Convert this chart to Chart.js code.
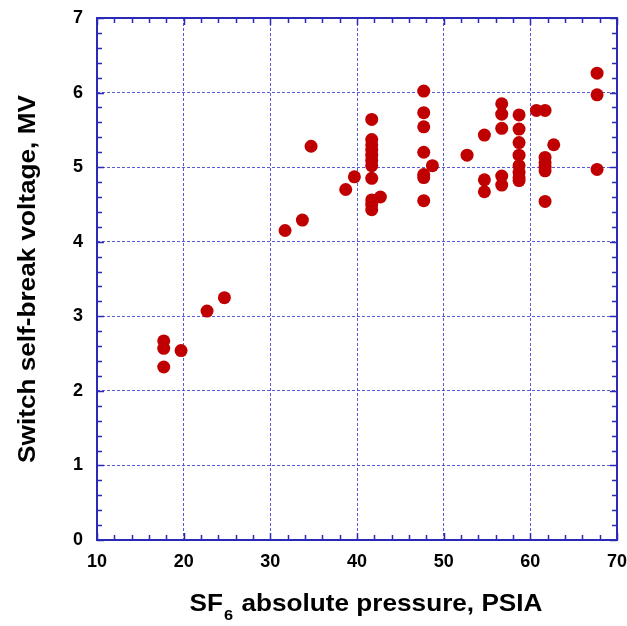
<!DOCTYPE html>
<html>
<head>
<meta charset="utf-8">
<script src="https://cdn.jsdelivr.net/npm/chart.js@4"></script>
<style>
  html, body { margin: 0; padding: 0; background: #fff; }
  #wrap { width: 627px; height: 626px; }
</style>
</head>
<body>
<div id="wrap"><canvas id="chart-sf6"></canvas></div>
<script>
// данные
const pressure = [
  17.7, 17.7, 17.7, 19.7, 22.7, 24.7, 31.7, 33.7, 34.7, 38.7, 39.7,
  41.7, 41.7, 41.7, 41.7, 41.7, 41.7, 41.7, 41.7, 41.7, 41.7, 41.7, 42.7,
  47.7, 47.7, 47.7, 47.7, 47.7, 47.7, 47.7, 48.7, 52.7,
  54.7, 54.7, 54.7, 56.7, 56.7, 56.7, 56.7, 56.7,
  58.7, 58.7, 58.7, 58.7, 58.7, 58.7, 58.7, 58.7, 60.7,
  61.7, 61.7, 61.7, 61.7, 61.7, 61.7, 62.7, 67.7, 67.7, 67.7,
];
const voltage = [
  2.67, 2.57, 2.32, 2.54, 3.07, 3.25, 4.15, 4.29, 5.28, 4.70, 4.87,
  5.64, 5.37, 5.30, 5.23, 5.16, 5.09, 5.02, 4.85, 4.56, 4.50, 4.43, 4.60,
  6.02, 5.73, 5.54, 5.20, 4.90, 4.86, 4.55, 5.02, 5.16,
  5.43, 4.83, 4.67, 5.85, 5.71, 5.52, 4.88, 4.76,
  5.70, 5.51, 5.33, 5.16, 5.02, 4.93, 4.86, 4.82, 5.76,
  5.76, 5.13, 5.06, 5.00, 4.95, 4.54, 5.30, 6.26, 5.97, 4.97,
];
const xTicks = [10, 20, 30, 40, 50, 60, 70];
const yTicks = [0, 1, 2, 3, 4, 5, 6, 7];
const xLabel = ["SF", "6", " absolute pressure, PSIA"];
const yLabel = "Switch self-break voltage, MV";

const FONT = '"Liberation Sans", Arial, Helvetica, sans-serif';
const BLUE = "#2a2ab8";
const GRID = "rgba(60, 60, 210, 0.85)";
const STRETCH = 1.09; // текст в оригинале немного растянут

const points = pressure.map((x, i) => ({ x: x, y: voltage[i] }));

// рамка, мелкие засечки и подписи осей
const framePlugin = {
  id: "frame",
  afterDraw(chart) {
    const { ctx, chartArea: a, scales } = chart;
    const sx = scales.x, sy = scales.y;
    ctx.save();
    ctx.strokeStyle = BLUE;
    ctx.lineWidth = 1.5;
    ctx.beginPath();
    // засечки по X (через 2)
    for (let v = 10; v <= 70; v += 2) {
      const px = Math.round(sx.getPixelForValue(v)) + 0.5;
      const len = v % 10 === 0 ? 7 : 5;
      ctx.moveTo(px, a.bottom); ctx.lineTo(px, a.bottom - len);
      ctx.moveTo(px, a.top); ctx.lineTo(px, a.top + len);
    }
    // засечки по Y (через 0.2)
    for (let k = 0; k <= 35; k++) {
      const v = k * 0.2;
      const py = Math.round(sy.getPixelForValue(v)) + 0.5;
      const len = k % 5 === 0 ? 7 : 5;
      ctx.moveTo(a.left, py); ctx.lineTo(a.left + len, py);
      ctx.moveTo(a.right, py); ctx.lineTo(a.right - len, py);
    }
    ctx.stroke();
    ctx.lineWidth = 2;
    ctx.strokeRect(a.left, a.top, a.right - a.left, a.bottom - a.top);

    ctx.fillStyle = "#000";
    ctx.textBaseline = "alphabetic";
    const big = "bold 24px " + FONT;
    const small = "bold 15px " + FONT;

    // подпись оси X: SF₆
    ctx.font = big;
    const w0 = ctx.measureText(xLabel[0]).width;
    const w2 = ctx.measureText(xLabel[2]).width;
    ctx.font = small;
    const w1 = ctx.measureText(xLabel[1]).width + 2;
    const cx = (a.left + a.right) / 2 + 9;
    ctx.save();
    ctx.translate(cx, 611);
    ctx.scale(STRETCH, 1);
    let x0 = -(w0 + w1 + w2) / 2;
    ctx.font = big;
    ctx.fillText(xLabel[0], x0, 0);
    ctx.font = small;
    ctx.fillText(xLabel[1], x0 + w0 + 1, 9);
    ctx.font = big;
    ctx.fillText(xLabel[2], x0 + w0 + w1, 0);
    ctx.restore();

    // подпись оси Y
    ctx.save();
    ctx.translate(35, (a.top + a.bottom) / 2);
    ctx.rotate(-Math.PI / 2);
    ctx.scale(STRETCH, 1);
    ctx.font = big;
    ctx.textAlign = "center";
    ctx.fillText(yLabel, 0, 0);
    ctx.restore();

    ctx.restore();
  },
};

new Chart(document.getElementById("chart-sf6"), {
  type: "scatter",
  data: {
    datasets: [
      {
        data: points,
        backgroundColor: "#c00000",
        borderColor: "#c00000",
        borderWidth: 0,
        pointRadius: 6.5,
        pointHoverRadius: 6.5,
      },
    ],
  },
  options: {
    responsive: true,
    maintainAspectRatio: false,
    animation: false,
    layout: { padding: { top: 18, right: 10, left: 0, bottom: 0 } },
    plugins: {
      legend: { display: false },
      tooltip: { enabled: false },
    },
    scales: {
      x: {
        type: "linear",
        min: 10,
        max: 70,
        afterBuildTicks(scale) {
          scale.ticks = xTicks.map((v) => ({ value: v }));
        },
        afterFit(scale) {
          scale.height = 86;
          scale.paddingLeft = 0;
          scale.paddingRight = 0;
        },
        grid: { color: GRID, lineWidth: 1, drawTicks: false },
        border: { display: false, dash: [3, 2] },
        ticks: {
          color: "#000",
          padding: 11,
          maxRotation: 0,
          font: { family: FONT, size: 18, weight: "bold" },
        },
      },
      y: {
        type: "linear",
        min: 0,
        max: 7,
        afterBuildTicks(scale) {
          scale.ticks = yTicks.map((v) => ({ value: v }));
        },
        afterFit(scale) {
          scale.width = 97;
          scale.paddingTop = 0;
          scale.paddingBottom = 0;
        },
        grid: { color: GRID, lineWidth: 1, drawTicks: false },
        border: { display: false, dash: [3, 2] },
        ticks: {
          color: "#000",
          padding: 14,
          font: { family: FONT, size: 18, weight: "bold" },
        },
      },
    },
  },
  plugins: [framePlugin],
});
</script>
</body>
</html>
